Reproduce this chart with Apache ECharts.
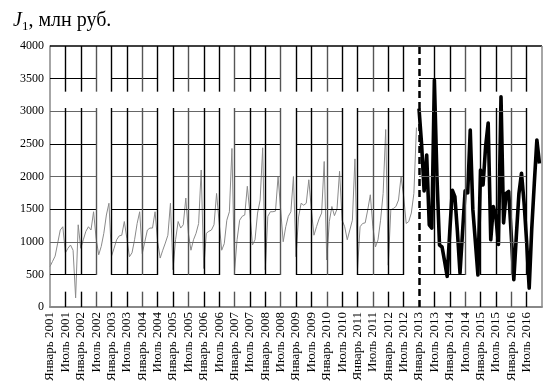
<!DOCTYPE html>
<html>
<head>
<meta charset="utf-8">
<script src="https://cdn.jsdelivr.net/npm/echarts@6/dist/echarts.min.js"></script>
<style>
  html, body { margin: 0; padding: 0; background: #fff; }
  #chart { width: 548px; height: 386px; }
</style>
</head>
<body>
<div id="chart"></div>
<script>
const monthNames = ['Январь', 'Февраль', 'Март', 'Апрель', 'Май', 'Июнь',
  'Июль', 'Август', 'Сентябрь', 'Октябрь', 'Ноябрь', 'Декабрь'];
const years = [2001, 2002, 2003, 2004, 2005, 2006, 2007, 2008,
  2009, 2010, 2011, 2012, 2013, 2014, 2015, 2016];
const yTicks = [0, 500, 1000, 1500, 2000, 2500, 3000, 3500, 4000];

// 2001–2012, тонкая серая линия (по месяцам)
const actualValues = [
  620, 700, 780, 980, 1180, 1230, 830, 900, 950, 870, 140, 1260,
  900, 1030, 1160, 1230, 1180, 1460, 1050, 800, 930, 1130, 1410, 1590,
  780, 900, 1030, 1090, 1100, 1310, 1050, 770, 830, 1030, 1280, 1460,
  820, 1000, 1180, 1210, 1210, 1460, 1000, 750, 870, 980, 1100, 1590,
  570, 1030, 1310, 1210, 1260, 1670, 1130, 870, 1030, 1130, 1280, 2100,
  590, 1130, 1160, 1180, 1260, 1740, 1300, 870, 970, 1330, 1460, 2430,
  540, 1030, 1330, 1390, 1410, 1850, 1440, 950, 1030, 1440, 1640, 2440,
  570, 1390, 1460, 1460, 1470, 2000, 1500, 1000, 1230, 1390, 1460, 2000,
  770, 1380, 1590, 1560, 1590, 1950, 1490, 1100, 1230, 1350, 1440, 2230,
  720, 1310, 1540, 1400, 1500, 2080, 1330, 1230, 1030, 1180, 1330, 2270,
  570, 1230, 1280, 1290, 1490, 1720, 1230, 920, 1030, 1330, 1740, 2720,
  640, 1490, 1510, 1540, 1640, 2000, 1700, 1280, 1310, 1440, 1740, 2750
];

// 2013–2016, жирная чёрная линия
const forecastValues = [
  3040, 2500, 1780, 2330, 1260, 1210, 3480, 2000, 950, 920, 700, 470,
  1150, 1790, 1690, 1150, 520, 1150, 1780, 1750, 2710, 1500, 1000, 490,
  2100, 1870, 2460, 2820, 1030, 1540, 1380, 960, 3220, 1290, 1740, 1770,
  1100, 420, 1100, 1740, 2050, 1600, 1000, 290, 1200, 1900, 2560, 2200
];

const categories = [];
years.forEach(y => monthNames.forEach(m => categories.push(m + ' ' + y)));
categories.push('Январь 2017'); // правая граница области

const nMonths = actualValues.length + forecastValues.length;
const splitIndex = actualValues.length;
const actualData = categories.map((_, i) => i < splitIndex ? actualValues[i] : null);
const forecastData = categories.map((_, i) => (i >= splitIndex && i < nMonths) ? forecastValues[i - splitIndex] : null);

// сетка с разрывами как на исходном рисунке
const gridLines = [];
const seg = (x1, y1, x2, y2, color, width) => gridLines.push([
  { coord: [categories[x1], y1], lineStyle: { color, width, type: 'solid' } },
  { coord: [categories[x2], y2] }
]);
yTicks.slice(1, -1).forEach(v => {
  const color = (v / 500) % 2 === 1 ? '#000' : '#666';
  for (let s = 0; s + 18 <= nMonths; s += 24) seg(s, v, s + 18, v, color, 1.2);
});
for (let i = 6; i < nMonths; i += 6) {
  if (i === splitIndex) continue;
  const color = (i / 6) % 3 === 0 ? '#555' : '#000';
  seg(i, 0, i, 235, color, 1.4);
  seg(i, 490, i, 3050, color, 1.4);
  seg(i, 3300, i, 4000, color, 1.4);
}
seg(0, 4000, nMonths, 4000, '#000', 1.5);
seg(nMonths, 0, nMonths, 4000, '#888', 1.5);

const serif = '"Liberation Serif", "DejaVu Serif", serif';
const chart = echarts.init(document.getElementById('chart'));

chart.setOption({
  animation: false,
  title: {
    text: '{j|J}{s|1}{t|, млн руб.}',
    left: 8,
    top: 4,
    textStyle: {
      fontFamily: serif,
      fontWeight: 'normal',
      color: '#000',
      rich: {
        j: { fontFamily: serif, fontStyle: 'italic', fontWeight: 'normal', fontSize: 20, color: '#000', lineHeight: 24 },
        s: { fontFamily: serif, fontWeight: 'normal', fontSize: 13, color: '#000', lineHeight: 24, verticalAlign: 'bottom', padding: [10, 0, 0, 0] },
        t: { fontFamily: serif, fontWeight: 'normal', fontSize: 20, color: '#000', lineHeight: 24 }
      }
    }
  },
  grid: { left: 50, right: 6, top: 46, bottom: 79 },
  xAxis: {
    type: 'category',
    boundaryGap: false,
    data: categories,
    axisLine: { lineStyle: { color: '#888', width: 2 } },
    axisTick: { show: false },
    splitLine: { show: false },
    axisLabel: {
      interval: (i) => i % 6 === 0 && i < nMonths,
      rotate: 90,
      margin: 5,
      fontFamily: serif,
      fontSize: 13,
      color: '#000'
    }
  },
  yAxis: {
    type: 'value',
    min: 0,
    max: 4000,
    interval: 500,
    axisLine: { show: true, lineStyle: { color: '#888', width: 1.5 } },
    axisTick: { show: false },
    splitLine: { show: false },
    axisLabel: {
      formatter: (v) => String(v),
      fontFamily: serif,
      fontSize: 12,
      color: '#000',
      margin: 6
    }
  },
  series: [
    {
      name: 'grid',
      type: 'line',
      data: [],
      silent: true,
      markLine: {
        silent: true,
        symbol: 'none',
        label: { show: false },
        data: gridLines
      }
    },
    {
      name: '2001–2012',
      type: 'line',
      data: actualData,
      showSymbol: false,
      lineStyle: { color: '#8a8a8a', width: 1 },
      itemStyle: { color: '#8a8a8a' }
    },
    {
      name: '2013–2016',
      type: 'line',
      data: forecastData,
      showSymbol: false,
      lineStyle: { color: '#000', width: 3.6, join: 'round' },
      itemStyle: { color: '#000' },
      markLine: {
        silent: true,
        symbol: 'none',
        label: { show: false },
        lineStyle: { color: '#000', width: 2.5, type: [7, 4] },
        data: [{ xAxis: categories[splitIndex] }]
      }
    }
  ]
});
</script>
</body>
</html>
